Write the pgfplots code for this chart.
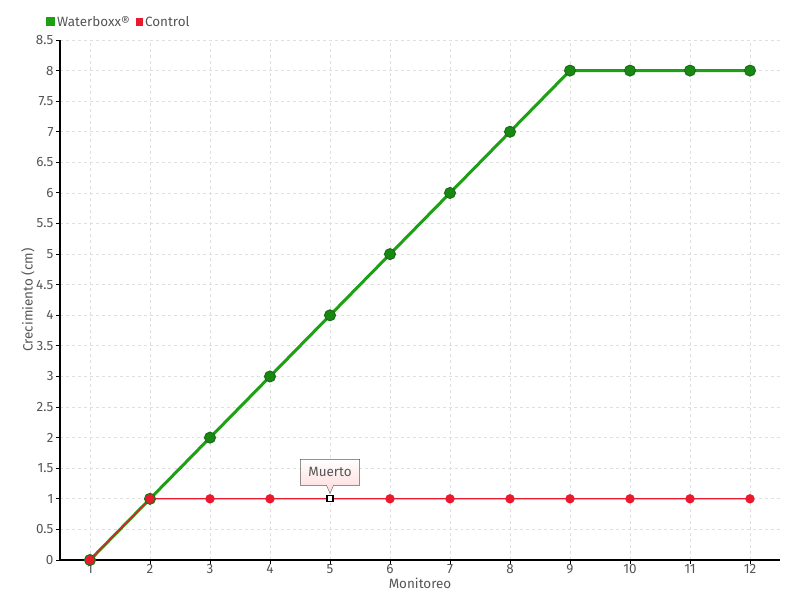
\documentclass[border=0pt]{standalone}
\usepackage{pgfplots}
\pgfplotsset{compat=1.18}
\usepackage{fontspec}
\setmainfont{Fira Sans}
\usetikzlibrary{shapes.callouts}
\definecolor{wgreen}{RGB}{30,160,20}
\definecolor{wgreendark}{RGB}{25,110,25}
\definecolor{cred}{RGB}{235,25,45}
\definecolor{txt}{RGB}{85,85,85}
\newcommand{\ff}{\fontsize{13.5}{15}\selectfont}
\begin{document}
\begin{tikzpicture}[x=1bp,y=1bp]
\useasboundingbox (-60bp,-40bp) rectangle (740bp,560bp);
\begin{axis}[
  at={(0,0)}, anchor=south west,
  scale only axis, width=720bp, height=520bp,
  xmin=0.5, xmax=12.5, ymin=0, ymax=8.5,
  xtick={1,...,12}, ytick={0,0.5,...,8.5},
  yticklabels={0,0.5,1,1.5,2,2.5,3,3.5,4,4.5,5,5.5,6,6.5,7,7.5,8,8.5},
  axis x line*=bottom, axis y line*=left,
  axis line style={black, line width=1.3bp, -},
  tick align=outside, tick style={black, line width=1bp},
  major tick length=4bp,
  grid=major, grid style={dashed, gray!25, line width=0.8bp},
  /pgf/number format/assume math mode=true,
  tick label style={font=\ff, text=txt},
  xticklabel style={yshift=3bp},
  yticklabel style={xshift=1bp},
  xlabel={Monitoreo}, ylabel={Crecimiento (cm)},
  label style={font=\ff, text=txt},
  xlabel style={at={(axis description cs:0.5,0)}, anchor=north, yshift=-14bp},
  ylabel style={at={(axis description cs:0,0.5)}, anchor=south, yshift=22bp},
  legend style={at={(-14bp,538bp)}, anchor=west, draw=none, fill=none,
    font=\ff, text=txt, legend columns=2, inner sep=0pt,
    /tikz/every even column/.append style={column sep=4bp}},
  legend image code/.code={\fill[#1] (2bp,-3bp) rectangle (8bp,3bp);},
  clip=false,
]
\addplot[wgreen, line width=3bp, mark=*, mark size=5.5bp,
  mark options={fill=wgreen!85!black, draw=wgreendark, line width=1bp}]
  coordinates {(1,0) (2,1) (3,2) (4,3) (5,4) (6,5) (7,6) (8,7) (9,8) (10,8) (11,8) (12,8)};
\addlegendentry{Waterboxx®}
\addplot[cred, line width=1.3bp, mark=*, mark size=4bp,
  mark options={fill=cred, draw=cred}]
  coordinates {(1,0) (2,1) (3,1) (4,1) (6,1) (7,1) (8,1) (9,1) (10,1) (11,1) (12,1)};
\addlegendentry{Control}
\addplot[cred, line width=1.3bp, forget plot] coordinates {(4,1) (6,1)};
\addplot[only marks, mark=square*, mark size=3bp, mark options={fill=white, draw=black, line width=1.3bp}, forget plot]
  coordinates {(5,1)};
\node[rectangle callout, draw=gray!70!black, top color=white, bottom color=red!15,
  font=\ff, text=txt, inner xsep=8bp, minimum height=26bp,
  callout relative pointer={(0bp,-8bp)}, anchor=pointer] at (axis cs:5,1) [yshift=5bp] {Muerto};
\end{axis}
\end{tikzpicture}
\end{document}
